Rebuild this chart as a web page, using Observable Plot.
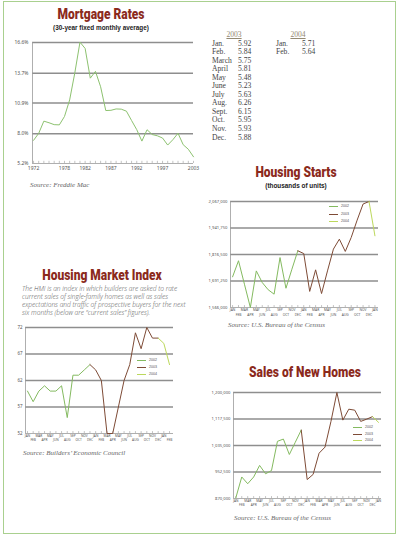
<!DOCTYPE html>
<html>
<head>
<meta charset="utf-8">
<script src="https://cdn.jsdelivr.net/npm/d3@7"></script>
<script src="https://cdn.jsdelivr.net/npm/@observablehq/plot@0.6"></script>
<style>
  html, body { margin: 0; padding: 0; background: #fff; }
  #page { position: relative; width: 400px; height: 538px; overflow: hidden; background: #fff; font-family: "Liberation Sans", Arial, sans-serif; }
  #frame { position: absolute; left: 3px; top: 1px; width: 393px; height: 533px; border: 1.5px solid #a9d08f; box-sizing: border-box; }
  .title { position: absolute; font-family: Roboto, "Liberation Sans", sans-serif; font-weight: 900; font-size: 15px; line-height: 15px; color: #8b2a1c; white-space: nowrap; transform: translate(-50%, -50%) scaleX(0.8); }
  .sub { position: absolute; font-family: "Liberation Sans", Arial, sans-serif; font-weight: bold; font-size: 6.4px; line-height: 7px; color: #222; white-space: nowrap; transform: translate(-50%, -50%); }
  .src { position: absolute; font-family: "Liberation Serif", serif; font-style: italic; font-size: 7px; line-height: 8px; color: #666; white-space: nowrap; transform: translateY(-50%); }
  .desc { position: absolute; left: 22px; top: 285px; width: 170px; font-family: "Open Sans", sans-serif; font-style: italic; font-weight: 300; font-size: 6.6px; line-height: 8.1px; color: #555; }
  .chart { position: absolute; }
  .tbl { position: absolute; font-family: "Liberation Serif", serif; font-size: 7.6px; line-height: 8.55px; color: #444; white-space: nowrap; }
  .tbl div { color: #444; }
  .tbl .hd { color: #948a72; text-decoration: underline; position: absolute; transform: translateX(-50%); }
  .leg { position: absolute; font-family: "Liberation Sans", Arial, sans-serif; font-size: 3.6px; color: #555; white-space: nowrap; }
  .leg .ln { position: absolute; height: 0; border-top: 0.8px solid; }
  .leg .lb { position: absolute; transform: translateY(-50%); line-height: 4px; }
</style>
</head>
<body>
<div id="page">
  <div id="frame"></div>

  <div class="title" style="left:101px; top:14px;">Mortgage Rates</div>
  <div class="sub" style="left:101px; top:27px;">(30-year fixed monthly average)</div>
  <div class="chart" id="mortgage" style="left:0px; top:35px;"></div>
  <div class="src" style="left:30px; top:185px;">Source: Freddie Mac</div>
  <div class="tbl" id="table" style="left:0; top:0;"></div>

  <div class="title" style="left:296px; top:172px;">Housing Starts</div>
  <div class="sub" style="left:296px; top:185px;">(thousands of units)</div>
  <div class="chart" id="starts" style="left:190px; top:190px;"></div>
  <div class="leg" id="legStarts" style="left:329px; top:206px;"></div>
  <div class="src" style="left:228px; top:325px;">Source: U.S. Bureau of the Census</div>

  <div class="title" style="left:102px; top:275px;">Housing Market Index</div>
  <div class="desc">The HMI is an index in which builders are asked to rate current sales of single-family homes as well as sales expectations and traffic of prospective buyers for the next six months (below are “current sales” figures).</div>
  <div class="chart" id="hmi" style="left:0px; top:320px;"></div>
  <div class="leg" id="legHmi" style="left:137px; top:360px;"></div>
  <div class="src" style="left:23px; top:453px;">Source: Builders’ Economic Council</div>

  <div class="title" style="left:305px; top:372px;">Sales of New Homes</div>
  <div class="chart" id="sales" style="left:190px; top:385px;"></div>
  <div class="leg" id="legSales" style="left:353px; top:427px;"></div>
  <div class="src" style="left:234px; top:518px;">Source: U.S. Bureau of the Census</div>
</div>

<script>
// ---------------- DATA ----------------
const mortgageYears = [1972,1973,1974,1975,1976,1977,1978,1979,1980,1981,1982,1983,1984,1985,1986,1987,1988,1989,1990,1991,1992,1993,1994,1995,1996,1997,1998,1999,2000,2001,2002,2003];
const mortgageRates = [7.38,8.04,9.19,9.04,8.86,8.84,9.63,11.19,13.74,16.63,16.04,13.24,13.88,12.43,10.19,10.21,10.34,10.32,10.13,9.25,8.39,7.31,8.38,7.93,7.81,7.60,6.94,7.44,8.05,6.97,6.54,5.83];
const mortgageTicks = [5.2, 8.0, 10.9, 13.7, 16.6];
const mortgageYearLabels = [1972, 1978, 1982, 1987, 1992, 1997, 2003];

const table2003Months = ["Jan.","Feb.","March","April","May","June","July","Aug.","Sept.","Oct.","Nov.","Dec."];
const table2003Rates = ["5.92","5.84","5.75","5.81","5.48","5.23","5.63","6.26","6.15","5.95","5.93","5.88"];
const table2004Months = ["Jan.","Feb."];
const table2004Rates = ["5.71","5.64"];

const monthLabels = ["JAN","FEB","MAR","APR","MAY","JUN","JUL","AUG","SEP","OCT","NOV","DEC"];
const seriesNames = ["2002","2003","2004"];
const seriesColors = ["#84ba60","#7e4b36","#bcd85c"];

const starts2002 = [1711000,1787000,1676000,1566000,1739000,1684000,1650000,1629000,1802000,1657000,1747000,1834000];
const starts2003 = [1821000,1642000,1744000,1632000,1739000,1842000,1889000,1831000,1897000,1979000,2055000,2067000];
const starts2004 = [1905000];
const startsTicks = [1566000, 1691250, 1816500, 1941750, 2067000];

const hmi2002 = [60,58,60,61,60,60,61,55,63,63,64,65];
const hmi2003 = [64,62,52,52,57,62,65,71,68,72,70,70];
const hmi2004 = [69,65];
const hmiTicks = [52, 57, 62, 67, 72];

const sales2002 = [872000,937000,916000,937000,973000,947000,957000,1048000,1055000,1007000,1045000,1083000];
const sales2003 = [929000,945000,1011000,1030000,1110000,1200000,1114000,1148000,1145000,1110000,1117000,1125000];
const sales2004 = [1107000];
const salesTicks = [870000, 952500, 1035000, 1117500, 1200000];

// ---------------- HELPERS ----------------
function buildRows(a, b, c) {
  const all = [...a, ...b, ...c];
  const rows = [];
  const bounds = [[0, a.length - 1], [a.length - 1, a.length + b.length - 1], [a.length + b.length - 1, all.length - 1]];
  bounds.forEach(([s, e], k) => {
    for (let i = s; i <= e; i++) rows.push({i, v: all[i], series: seriesNames[k]});
  });
  return {rows, n: all.length};
}

const gridColor = "#8e8e8e";
const axisColor = "#9a9a9a";
const labelColor = "#555";

function monthChart({a, b, c, ticks, width, height, margins, xDomain, fmt, yFontSize, monthFont, dyTop, dyBot, tickLen}) {
  const {rows, n} = buildRows(a, b, c);
  const idx = d3.range(n);
  const ymin = ticks[0], ymax = ticks[ticks.length - 1];
  const tickH = (ymax - ymin) * tickLen;
  return Plot.plot({
    width, height,
    marginLeft: margins[0], marginRight: margins[1], marginTop: margins[2], marginBottom: margins[3],
    x: {domain: xDomain, axis: null, label: null},
    y: {domain: [ymin, ymax], axis: null, label: null},
    style: {background: "transparent", overflow: "visible"},
    marks: [
      Plot.ruleY(ticks.slice(1), {stroke: gridColor, strokeWidth: 1.4}),
      Plot.ruleY([ymin], {stroke: axisColor, strokeWidth: 0.8}),
      Plot.ruleX([xDomain[0]], {stroke: axisColor, strokeWidth: 0.8}),
      Plot.ruleX(idx, {x: d => d, y1: ymin, y2: ymin + tickH, stroke: axisColor, strokeWidth: 0.6}),
      Plot.axisY(ticks, {label: null, tickSize: 0, tickPadding: 3, fontSize: yFontSize, fill: labelColor, tickFormat: fmt}),
      Plot.text(idx.filter(d => d % 2 === 0), {x: d => d, y: ymin, text: d => monthLabels[d % 12], dy: dyTop, fontSize: monthFont, fill: labelColor}),
      Plot.text(idx.filter(d => d % 2 === 1), {x: d => d, y: ymin, text: d => monthLabels[d % 12], dy: dyBot, fontSize: monthFont, fill: labelColor}),
      Plot.line(rows, {x: "i", y: "v", z: "series", stroke: "series", strokeWidth: 1})
    ],
    color: {domain: seriesNames, range: seriesColors}
  });
}

function legend(id, spacing) {
  const el = document.getElementById(id);
  seriesNames.forEach((s, k) => {
    const ln = document.createElement("div");
    ln.className = "ln";
    ln.style.cssText = `left:0px; top:${k * spacing}px; width:9px; border-top-color:${seriesColors[k]};`;
    const lb = document.createElement("div");
    lb.className = "lb";
    lb.style.cssText = `left:12px; top:${k * spacing}px;`;
    lb.textContent = s;
    el.appendChild(ln); el.appendChild(lb);
  });
}

// ---------------- MORTGAGE ----------------
const mortgageRows = mortgageYears.map((y, i) => ({year: y, rate: mortgageRates[i]}));
document.getElementById("mortgage").appendChild(Plot.plot({
  width: 200, height: 145,
  marginLeft: 32, marginRight: 7, marginTop: 7, marginBottom: 17,
  x: {domain: [1971.8, 2003], axis: null, label: null},
  y: {domain: [5.2, 16.6], axis: null, label: null},
  style: {background: "transparent", overflow: "visible"},
  marks: [
    Plot.ruleY(mortgageTicks.slice(1), {stroke: gridColor, strokeWidth: 1.4}),
    Plot.ruleY([5.2], {stroke: axisColor, strokeWidth: 0.8}),
    Plot.ruleX([1971.8], {stroke: axisColor, strokeWidth: 0.8}),
    Plot.ruleX(mortgageYears, {x: d => d, y1: 5.2, y2: 5.2 + 11.4 * 0.018, stroke: axisColor, strokeWidth: 0.6}),
    Plot.axisY(mortgageTicks, {label: null, tickSize: 0, tickPadding: 4, fontSize: 5, fill: labelColor, tickFormat: d => d.toFixed(1) + "%"}),
    Plot.axisX(mortgageYearLabels, {label: null, tickSize: 0, tickPadding: 3, fontSize: 5, fill: labelColor, tickFormat: d => String(d)}),
    Plot.line(mortgageRows, {x: "year", y: "rate", stroke: "#8dc270", strokeWidth: 1})
  ]
}));

// Table of 2003 / 2004 rates
(function () {
  const t = document.getElementById("table");
  const rowH = 8.55, top0 = 44;
  const add = (txt, x, y, cls) => {
    const d = document.createElement("div");
    d.style.position = "absolute";
    d.style.left = x + "px";
    d.style.top = (y - 4.5) + "px";
    if (cls) d.className = cls;
    d.textContent = txt;
    t.appendChild(d);
  };
  add("2003", 234, 35, "hd");
  add("2004", 298, 35, "hd");
  table2003Months.forEach((m, i) => { add(m, 212, top0 + i * rowH); add(table2003Rates[i], 238, top0 + i * rowH); });
  table2004Months.forEach((m, i) => { add(m, 276, top0 + i * rowH); add(table2004Rates[i], 302, top0 + i * rowH); });
})();

// ---------------- HOUSING STARTS ----------------
document.getElementById("starts").appendChild(monthChart({
  a: starts2002, b: starts2003, c: starts2004, ticks: startsTicks,
  width: 210, height: 140, margins: [40, 22, 11, 23], xDomain: [-0.35, 24.6],
  fmt: d3.format(","), yFontSize: 4.2, monthFont: 3.3, dyTop: 2.8, dyBot: 7.2, tickLen: 0.018
}));
legend("legStarts", 7.5);

// ---------------- HMI ----------------
document.getElementById("hmi").appendChild(monthChart({
  a: hmi2002, b: hmi2003, c: hmi2004, ticks: hmiTicks,
  width: 200, height: 125, margins: [25, 27, 7, 12], xDomain: [-0.35, 25.7],
  fmt: d => String(d), yFontSize: 4.4, monthFont: 3.2, dyTop: 2.6, dyBot: 6.6, tickLen: 0.018
}));
legend("legHmi", 7);

// ---------------- SALES ----------------
document.getElementById("sales").appendChild(monthChart({
  a: sales2002, b: sales2003, c: sales2004, ticks: salesTicks,
  width: 210, height: 125, margins: [43, 19, 7, 12], xDomain: [-0.39, 24.5],
  fmt: d3.format(","), yFontSize: 4.2, monthFont: 3.2, dyTop: 2.4, dyBot: 6.2, tickLen: 0.018
}));
legend("legSales", 6.5);
</script>
</body>
</html>
